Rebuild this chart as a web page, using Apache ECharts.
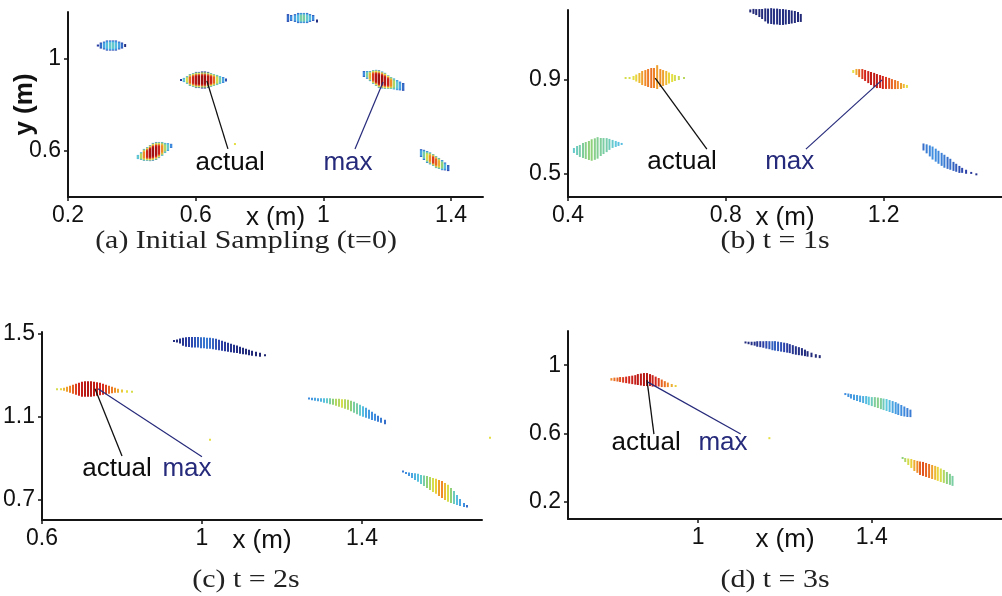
<!DOCTYPE html>
<html><head><meta charset="utf-8">
<script src="https://cdn.jsdelivr.net/npm/echarts@6/dist/echarts.min.js"></script>
<style>html,body{margin:0;padding:0;background:#fff}#chart{width:1002px;height:596px}</style>
</head><body><div id="chart"></div>
<script>
// ---------- tick values ----------
const a_xTicks = [0.2, 0.6, 1, 1.4];
const a_yTicks = [0.6, 1];
const b_xTicks = [0.4, 0.8, 1.2];
const b_yTicks = [0.5, 0.9];
const c_xTicks = [0.6, 1, 1.4];
const c_yTicks = [0.7, 1.1, 1.5];
const d_xTicks = [1, 1.4];
const d_yTicks = [0.2, 0.6, 1];

const captions = ['(a) Initial Sampling (t=0)', '(b) t = 1s', '(c) t = 2s', '(d) t = 3s'];

// ---------- particle columns: [x, y centre, half height, weight, rim weight] ----------
// (a) initial sampling
const a_clusterLeft = [
 [0.294,1.055,0.004,0.12,0.10],[0.303,1.055,0.013,0.20,0.12],[0.313,1.055,0.017,0.30,0.15],
 [0.322,1.055,0.022,0.35,0.15],[0.332,1.055,0.022,0.40,0.15],[0.341,1.055,0.022,0.40,0.15],
 [0.350,1.055,0.022,0.35,0.15],[0.360,1.055,0.017,0.30,0.15],[0.369,1.055,0.013,0.20,0.12],
 [0.379,1.055,0.0065,0.05,0.05]];
const a_clusterTop = [
 [0.889,1.174,0.017,0.20,0.12],[0.899,1.174,0.013,0.25,0.15],[0.911,1.174,0.017,0.30,0.15],
 [0.921,1.174,0.022,0.35,0.15],[0.930,1.174,0.022,0.45,0.20],[0.939,1.174,0.022,0.45,0.20],
 [0.949,1.174,0.022,0.40,0.15],[0.958,1.174,0.017,0.35,0.15],[0.968,1.174,0.013,0.25,0.12],
 [0.980,1.161,0.0065,0.05,0.05]];
const a_clusterActual = [
 [0.554,0.906,0.004,0.10,0.10],[0.563,0.906,0.009,0.40,0.20],[0.573,0.906,0.017,0.60,0.30],
 [0.582,0.906,0.026,0.80,0.30],[0.592,0.906,0.030,0.90,0.30],[0.601,0.906,0.035,0.95,0.20],
 [0.610,0.906,0.035,1.00,0.20],[0.620,0.906,0.037,1.00,0.10],[0.629,0.906,0.037,1.00,0.10],
 [0.639,0.906,0.035,0.95,0.15],[0.648,0.906,0.030,0.90,0.30],[0.657,0.906,0.026,0.80,0.35],
 [0.667,0.906,0.022,0.60,0.35],[0.676,0.906,0.017,0.45,0.30],[0.686,0.906,0.013,0.30,0.20],
 [0.695,0.906,0.0065,0.15,0.15]];
const a_clusterMax = [
 [1.127,0.932,0.013,0.25,0.15],[1.137,0.928,0.017,0.45,0.20],[1.146,0.923,0.022,0.70,0.25],
 [1.156,0.919,0.030,0.85,0.30],[1.165,0.915,0.035,0.95,0.30],[1.174,0.910,0.039,1.00,0.25],
 [1.184,0.906,0.037,1.00,0.30],[1.193,0.902,0.035,0.95,0.30],[1.203,0.897,0.030,0.90,0.35],
 [1.212,0.893,0.026,0.75,0.35],[1.221,0.889,0.024,0.55,0.30],[1.231,0.884,0.022,0.40,0.25],
 [1.240,0.880,0.019,0.30,0.20],[1.250,0.876,0.017,0.20,0.15]];
const a_clusterLowLeft = [
 [0.419,0.573,0.009,0.40,0.30],[0.429,0.577,0.017,0.55,0.30],[0.438,0.582,0.026,0.75,0.30],
 [0.448,0.586,0.030,0.90,0.30],[0.457,0.590,0.035,0.98,0.30],[0.466,0.595,0.039,1.00,0.25],
 [0.476,0.599,0.039,0.98,0.25],[0.485,0.603,0.035,0.90,0.30],[0.495,0.608,0.030,0.75,0.30],
 [0.504,0.612,0.022,0.55,0.30],[0.513,0.616,0.017,0.40,0.25],[0.523,0.621,0.009,0.25,0.20]];
const a_clusterLowRight = [
 [1.306,0.590,0.017,0.30,0.15],[1.315,0.582,0.022,0.45,0.15],[1.325,0.573,0.026,0.60,0.20],
 [1.334,0.567,0.026,0.75,0.25],[1.344,0.560,0.026,0.85,0.30],[1.353,0.551,0.026,0.80,0.30],
 [1.362,0.545,0.024,0.70,0.30],[1.372,0.538,0.022,0.50,0.20],[1.381,0.532,0.017,0.35,0.15],
 [1.391,0.525,0.013,0.20,0.10]];
const a_stray = [[0.723,0.629,0.003,0.62,0.62]];

// (b) t = 1s  [x, y, half height, weight]
const b_clusterTop = [
 [0.862,1.196,0.0064,0.03],[0.870,1.194,0.0107,0.03],[0.877,1.191,0.0128,0.03],[0.885,1.187,0.0171,0.03],
 [0.892,1.183,0.0214,0.04],[0.900,1.179,0.0278,0.04],[0.907,1.174,0.032,0.05],[0.915,1.174,0.034,0.05],
 [0.922,1.172,0.034,0.05],[0.930,1.172,0.034,0.05],[0.937,1.170,0.034,0.05],[0.945,1.170,0.034,0.05],
 [0.952,1.170,0.032,0.05],[0.960,1.170,0.030,0.04],[0.967,1.170,0.0278,0.04],[0.975,1.170,0.0257,0.04],
 [0.983,1.170,0.0214,0.03],[0.990,1.166,0.0171,0.03]];
const b_clusterActual = [
 [0.546,0.909,0.003,0.60],[0.556,0.909,0.0043,0.60],[0.566,0.909,0.0086,0.62],[0.573,0.909,0.015,0.64],
 [0.581,0.909,0.0214,0.68],[0.588,0.909,0.030,0.72],[0.596,0.909,0.034,0.75],[0.603,0.909,0.0385,0.77],
 [0.611,0.909,0.0428,0.78],[0.618,0.909,0.0428,0.76],[0.626,0.913,0.051,0.72],[0.634,0.909,0.0385,0.74],
 [0.641,0.909,0.034,0.72],[0.649,0.909,0.030,0.68],[0.656,0.909,0.0235,0.64],[0.664,0.909,0.0171,0.62],
 [0.671,0.909,0.0128,0.60],[0.681,0.909,0.0086,0.58],[0.694,0.909,0.0043,0.56]];
const b_clusterMax = [
 [1.123,0.937,0.0064,0.62],[1.131,0.935,0.0128,0.70],[1.138,0.930,0.0171,0.78],[1.146,0.926,0.0214,0.85],
 [1.153,0.920,0.0235,0.88],[1.161,0.913,0.0257,0.90],[1.168,0.907,0.0278,0.92],[1.176,0.901,0.030,0.93],
 [1.183,0.896,0.030,0.92],[1.191,0.894,0.0278,0.90],[1.198,0.890,0.0278,0.88],[1.206,0.888,0.0257,0.85],
 [1.214,0.886,0.0235,0.83],[1.221,0.883,0.0214,0.80],[1.229,0.881,0.0193,0.78],[1.236,0.879,0.0171,0.75],
 [1.244,0.875,0.0128,0.72],[1.251,0.875,0.0086,0.68],[1.259,0.873,0.0064,0.62]];
const b_clusterLowRight = [
 [1.301,0.614,0.015,0.20],[1.309,0.606,0.0193,0.22],[1.317,0.597,0.0235,0.24],[1.324,0.588,0.0278,0.25],
 [1.332,0.579,0.0278,0.25],[1.339,0.570,0.0278,0.24],[1.347,0.561,0.0278,0.23],[1.354,0.553,0.0278,0.22],
 [1.362,0.546,0.0257,0.20],[1.369,0.540,0.0235,0.20],[1.377,0.531,0.0193,0.18],[1.384,0.525,0.0171,0.17],
 [1.392,0.518,0.015,0.15],[1.399,0.514,0.0107,0.14],[1.409,0.508,0.0086,0.12],[1.422,0.503,0.0043,0.10],
 [1.435,0.497,0.0021,0.08]];
const b_clusterLowLeft = [
 [0.415,0.599,0.0107,0.40],[0.423,0.599,0.0193,0.42],[0.430,0.597,0.0257,0.44],[0.438,0.599,0.032,0.46],
 [0.445,0.599,0.0364,0.48],[0.453,0.599,0.0406,0.50],[0.460,0.601,0.046,0.50],[0.468,0.605,0.046,0.48],
 [0.475,0.610,0.046,0.47],[0.483,0.614,0.0385,0.46],[0.490,0.618,0.0342,0.45],[0.498,0.622,0.030,0.44],
 [0.505,0.625,0.0235,0.42],[0.513,0.627,0.0171,0.40],[0.521,0.627,0.0128,0.38],[0.528,0.627,0.0086,0.36],
 [0.536,0.627,0.0043,0.35]];

// (c) t = 2s
const c_clusterTop = [
 [0.930,1.467,0.0036,0.05],[0.9375,1.466,0.0073,0.05],[0.945,1.466,0.0121,0.06],[0.9525,1.463,0.0194,0.08],
 [0.960,1.462,0.023,0.10],[0.9675,1.461,0.0242,0.12],[0.975,1.460,0.0255,0.14],[0.9825,1.460,0.0255,0.16],
 [0.990,1.460,0.0255,0.18],[0.9975,1.458,0.0267,0.20],[1.005,1.458,0.0267,0.21],[1.0125,1.456,0.0267,0.22],
 [1.020,1.456,0.0267,0.20],[1.0275,1.453,0.0267,0.18],[1.035,1.451,0.0267,0.16],[1.0425,1.447,0.0255,0.14],
 [1.050,1.444,0.0242,0.12],[1.0575,1.440,0.023,0.10],[1.065,1.436,0.0218,0.09],[1.0725,1.433,0.0206,0.08],
 [1.080,1.429,0.0194,0.07],[1.0875,1.426,0.0182,0.06],[1.095,1.422,0.017,0.05],[1.1025,1.418,0.0158,0.05],
 [1.110,1.415,0.0145,0.04],[1.1175,1.411,0.0133,0.04],[1.125,1.407,0.0121,0.03],[1.135,1.404,0.0109,0.03],
 [1.145,1.400,0.0097,0.02],[1.1575,1.398,0.0048,0.02]];
const c_clusterActual = [
 [0.6375,1.233,0.0024,0.60],[0.6475,1.233,0.0048,0.64],[0.655,1.233,0.0073,0.68],[0.6625,1.233,0.0121,0.72],
 [0.670,1.233,0.017,0.76],[0.6775,1.233,0.0218,0.80],[0.685,1.233,0.0267,0.84],[0.6925,1.233,0.0315,0.88],
 [0.700,1.233,0.0364,0.92],[0.7075,1.234,0.0376,0.94],[0.715,1.234,0.0376,0.95],[0.7225,1.234,0.0376,0.94],
 [0.730,1.234,0.0351,0.93],[0.7375,1.234,0.0327,0.91],[0.745,1.234,0.0303,0.89],[0.7525,1.233,0.0267,0.87],
 [0.760,1.232,0.023,0.84],[0.7675,1.230,0.0194,0.80],[0.775,1.229,0.0158,0.77],[0.7825,1.228,0.0121,0.74],
 [0.790,1.226,0.0097,0.70],[0.800,1.224,0.0073,0.66],[0.8125,1.222,0.0061,0.62],[0.825,1.221,0.0048,0.60]];
const c_clusterMid = [
 [1.2675,1.188,0.0036,0.25],[1.275,1.186,0.0061,0.27],[1.2825,1.184,0.0073,0.30],[1.290,1.182,0.0073,0.30],
 [1.2975,1.181,0.0085,0.33],[1.305,1.178,0.0109,0.36],[1.3125,1.177,0.0121,0.40],[1.320,1.175,0.0145,0.45],
 [1.3275,1.172,0.0145,0.50],[1.335,1.170,0.017,0.55],[1.3425,1.167,0.0194,0.55],[1.350,1.164,0.0206,0.60],
 [1.3575,1.161,0.023,0.55],[1.365,1.158,0.0242,0.55],[1.3725,1.152,0.0255,0.50],[1.380,1.146,0.0267,0.45],
 [1.3875,1.138,0.0267,0.45],[1.395,1.131,0.0267,0.40],[1.4025,1.125,0.0255,0.35],[1.410,1.119,0.0242,0.30],
 [1.4175,1.112,0.0218,0.28],[1.425,1.104,0.0194,0.25],[1.4325,1.097,0.017,0.25],[1.440,1.090,0.0145,0.22],
 [1.4475,1.083,0.0121,0.22],[1.4575,1.074,0.0109,0.20]];
const c_clusterLowRight = [
 [1.5025,0.835,0.0024,0.22],[1.510,0.828,0.0048,0.25],[1.5175,0.822,0.0085,0.27],[1.525,0.816,0.0121,0.30],
 [1.5325,0.810,0.0158,0.33],[1.540,0.804,0.0194,0.36],[1.5475,0.796,0.0218,0.40],[1.555,0.790,0.0255,0.45],
 [1.5625,0.784,0.0291,0.50],[1.570,0.777,0.0315,0.55],[1.5775,0.770,0.0339,0.60],[1.585,0.763,0.0364,0.65],
 [1.5925,0.755,0.0388,0.72],[1.600,0.748,0.0412,0.75],[1.6075,0.738,0.0412,0.68],[1.615,0.729,0.0412,0.60],
 [1.6225,0.719,0.0364,0.50],[1.630,0.709,0.0315,0.42],[1.6375,0.697,0.0242,0.35],[1.645,0.685,0.017,0.30],
 [1.655,0.673,0.0097,0.25],[1.6625,0.667,0.0061,0.20]];
const c_stray = [[1.02,0.988,0.003,0.62],[1.72,0.998,0.003,0.62]];

// (d) t = 3s
const d_clusterActual = [
 [0.800,0.917,0.0073,0.75],[0.807,0.917,0.0102,0.78],[0.814,0.916,0.0117,0.80],[0.820,0.916,0.0146,0.82],
 [0.827,0.914,0.0161,0.85],[0.834,0.914,0.019,0.87],[0.841,0.914,0.0219,0.88],[0.848,0.914,0.0248,0.90],
 [0.855,0.914,0.0277,0.92],[0.861,0.916,0.0321,0.93],[0.868,0.916,0.035,0.94],[0.875,0.916,0.038,0.95],
 [0.882,0.916,0.038,0.95],[0.889,0.913,0.035,0.93],[0.895,0.908,0.0336,0.90],[0.902,0.904,0.0292,0.88],
 [0.909,0.900,0.0248,0.85],[0.916,0.894,0.0219,0.80],[0.923,0.889,0.0175,0.78],[0.930,0.885,0.0131,0.75],
 [0.939,0.881,0.0088,0.70],[0.948,0.878,0.0058,0.65]];
const d_clusterTop = [
 [1.109,1.133,0.0044,0.04],[1.116,1.130,0.0073,0.05],[1.123,1.127,0.0102,0.06],[1.130,1.126,0.0117,0.07],
 [1.136,1.124,0.0161,0.08],[1.143,1.123,0.0175,0.10],[1.150,1.121,0.019,0.12],[1.157,1.119,0.0219,0.14],
 [1.164,1.117,0.0234,0.16],[1.171,1.114,0.0263,0.18],[1.177,1.113,0.0277,0.18],[1.184,1.110,0.0277,0.17],
 [1.191,1.107,0.0277,0.15],[1.198,1.104,0.0277,0.13],[1.205,1.101,0.0277,0.11],[1.211,1.097,0.0263,0.10],
 [1.218,1.091,0.0263,0.08],[1.225,1.086,0.0248,0.07],[1.232,1.082,0.0234,0.06],[1.239,1.078,0.0219,0.05],
 [1.246,1.072,0.019,0.05],[1.252,1.066,0.0161,0.04],[1.261,1.060,0.0131,0.04],[1.271,1.054,0.0102,0.03],
 [1.280,1.050,0.0088,0.03]];
const d_clusterMid = [
 [1.339,0.831,0.0058,0.25],[1.346,0.824,0.0102,0.26],[1.352,0.818,0.0131,0.27],[1.359,0.812,0.0161,0.28],
 [1.366,0.808,0.0175,0.29],[1.373,0.803,0.019,0.30],[1.380,0.799,0.0204,0.32],[1.387,0.796,0.0234,0.35],
 [1.393,0.791,0.0248,0.38],[1.400,0.787,0.0263,0.42],[1.407,0.784,0.0292,0.46],[1.414,0.780,0.0307,0.48],
 [1.421,0.775,0.0321,0.46],[1.427,0.771,0.0336,0.42],[1.434,0.767,0.035,0.38],[1.441,0.761,0.035,0.34],
 [1.448,0.755,0.035,0.30],[1.455,0.749,0.035,0.28],[1.461,0.742,0.0336,0.26],[1.468,0.735,0.0321,0.25],
 [1.475,0.729,0.0292,0.24],[1.482,0.723,0.0263,0.23],[1.489,0.718,0.0219,0.22]];
const d_clusterLowRight = [
 [1.471,0.457,0.0058,0.50],[1.477,0.445,0.0117,0.55],[1.484,0.435,0.019,0.60],[1.491,0.425,0.0263,0.65],
 [1.498,0.413,0.0321,0.70],[1.505,0.405,0.035,0.75],[1.511,0.397,0.0394,0.80],[1.518,0.393,0.0409,0.82],
 [1.525,0.387,0.0409,0.80],[1.532,0.381,0.0409,0.78],[1.539,0.375,0.0409,0.72],[1.546,0.370,0.0409,0.68],
 [1.552,0.364,0.0409,0.64],[1.559,0.356,0.0394,0.60],[1.566,0.349,0.038,0.55],[1.573,0.340,0.035,0.50],
 [1.580,0.332,0.0321,0.47],[1.586,0.323,0.0292,0.45]];
const d_stray = [[1.164,0.573,0.003,0.62]];

// ---------- annotations: text position and pointer line [from, to] ----------
const a_actualText = [0.708, 0.547], a_actualLine = [[0.701, 0.608], [0.635, 0.902]];
const a_maxText    = [1.077, 0.547], a_maxLine    = [[1.099, 0.608], [1.187, 0.897]];
const b_actualText = [0.689, 0.550], b_actualLine = [[0.752, 0.605], [0.621, 0.909]];
const b_maxText    = [0.962, 0.550], b_maxLine    = [[1.003, 0.605], [1.196, 0.901]];
const c_actualText = [0.7875, 0.847], c_actualLine = [[0.800, 0.910], [0.7325, 1.235]];
const c_maxText    = [0.9625, 0.847], c_maxLine    = [[1.000, 0.906], [0.740, 1.235]];
const d_actualText = [0.880, 0.545], d_actualLine = [[0.898, 0.597], [0.882, 0.913]];
const d_maxText    = [1.057, 0.545], d_maxLine    = [[1.098, 0.597], [0.884, 0.901]];

// ---------- styling helpers ----------
// muted, print-like jet colour ramp
const RAMP = [
  [0.000, [31, 34, 102]], [0.125, [42, 63, 168]], [0.25, [63, 142, 224]], [0.375, [92, 200, 224]],
  [0.5, [143, 208, 122]], [0.625, [232, 224, 64]], [0.75, [240, 138, 40]], [0.875, [214, 38, 28]],
  [1.0, [160, 16, 16]]
];
function jet(t) {
  t = Math.max(0, Math.min(1, t));
  for (let i = 1; i < RAMP.length; i++) {
    if (t <= RAMP[i][0]) {
      const [t0, c0] = RAMP[i - 1], [t1, c1] = RAMP[i];
      const k = (t - t0) / (t1 - t0);
      return 'rgb(' + c0.map((v, j) => Math.round(v + (c1[j] - v) * k)).join(',') + ')';
    }
  }
  return 'rgb(160,16,16)';
}
function renderColumn(params, api) {
  const x = api.value(0), y = api.value(1), h = api.value(2), w = api.value(3);
  let e = api.value(4); if (e == null || isNaN(e)) e = w;
  const p1 = api.coord([x, y + h]), p2 = api.coord([x, y - h]);
  let top = p1[1], hgt = p2[1] - p1[1];
  if (hgt < 2) { top -= (2 - hgt) / 2; hgt = 2; }
  let fill, width = 2;
  if (Math.abs(e - w) < 1e-6) fill = jet(w);
  else {
    width = 2.4;
    const prof = [[0, 0], [0.1, 0.5], [0.2, 0.85], [0.28, 1], [0.72, 1], [0.8, 0.85], [0.9, 0.5], [1, 0]];
    fill = new echarts.graphic.LinearGradient(0, 0, 0, 1,
      prof.map(([o, k]) => ({ offset: o, color: jet(e + (w - e) * k) })));
  }
  return { type: 'rect', shape: { x: p1[0] - width / 2, y: top, width, height: hgt }, style: { fill } };
}
const full = arr => arr.map(r => r.length === 5 ? r : [r[0], r[1], r[2], r[3], r[3]]);

const FONT = 'Liberation Sans';
const grids = [
  { left: 68, top: 12, width: 415, height: 185 },
  { left: 568, top: 10, width: 438, height: 187 },
  { left: 42, top: 332, width: 440, height: 188 },
  { left: 568, top: 331, width: 440, height: 188 }
];
const ranges = [
  { x: [0.2, 1.5], y: [0.4, 1.2], xt: a_xTicks, yt: a_yTicks },
  { x: [0.4, 1.5], y: [0.4, 1.2], xt: b_xTicks, yt: b_yTicks },
  { x: [0.6, 1.7], y: [0.6, 1.51], xt: c_xTicks, yt: c_yTicks },
  { x: [0.7, 1.7], y: [0.1, 1.2], xt: d_xTicks, yt: d_yTicks }
];
const axisLine = { show: true, onZero: false, lineStyle: { color: '#151515', width: 2 } };
const xAxis = ranges.map((r, i) => ({
  type: 'value', gridIndex: i, min: r.x[0], max: r.x[1],
  axisLine, splitLine: { show: false },
  axisTick: { show: true, length: 4, customValues: r.xt, lineStyle: { color: '#151515', width: 1.5 } },
  axisLabel: { customValues: r.xt, fontSize: 23, color: '#111', fontFamily: FONT, margin: 7 },
  name: 'x (m)', nameLocation: 'middle', nameGap: 8, nameMoveOverlap: false,
  nameTextStyle: { fontSize: 26, color: '#111', fontFamily: FONT, verticalAlign: 'top' }
}));
const yAxis = ranges.map((r, i) => ({
  type: 'value', gridIndex: i, min: r.y[0], max: r.y[1],
  axisLine, splitLine: { show: false },
  axisTick: { show: true, length: 4, customValues: r.yt, lineStyle: { color: '#151515', width: 1.5 } },
  axisLabel: { customValues: r.yt, fontSize: 23, color: '#111', fontFamily: FONT, margin: 7 },
  name: i === 0 ? 'y (m)' : '', nameLocation: 'middle', nameGap: 30, nameRotate: 90, nameMoveOverlap: false,
  nameTextStyle: { fontSize: 26, fontWeight: 'bold', color: '#111', fontFamily: FONT }
}));

const panelClusters = [
  [a_clusterLeft, a_clusterTop, a_clusterActual, a_clusterMax, a_clusterLowLeft, a_clusterLowRight, a_stray],
  [b_clusterTop, b_clusterActual, b_clusterMax, b_clusterLowRight, b_clusterLowLeft],
  [c_clusterTop, c_clusterActual, c_clusterMid, c_clusterLowRight, c_stray],
  [d_clusterActual, d_clusterTop, d_clusterMid, d_clusterLowRight, d_stray]
];
const annots = [
  [a_actualText, a_actualLine, a_maxText, a_maxLine],
  [b_actualText, b_actualLine, b_maxText, b_maxLine],
  [c_actualText, c_actualLine, c_maxText, c_maxLine],
  [d_actualText, d_actualLine, d_maxText, d_maxLine]
];
const MAXC = '#262a7a';
const series = [];
panelClusters.forEach((cl, i) => {
  cl.forEach(arr => series.push({
    type: 'custom', xAxisIndex: i, yAxisIndex: i, renderItem: renderColumn,
    data: full(arr), silent: true, z: 2
  }));
  const [at, al, mt, ml] = annots[i];
  series.push({ type: 'line', xAxisIndex: i, yAxisIndex: i, data: al, symbol: 'none', silent: true, z: 5,
    lineStyle: { color: '#111', width: 1.3 } });
  series.push({ type: 'line', xAxisIndex: i, yAxisIndex: i, data: ml, symbol: 'none', silent: true, z: 5,
    lineStyle: { color: MAXC, width: 1.2 } });
  series.push({ type: 'scatter', xAxisIndex: i, yAxisIndex: i, symbolSize: 1, silent: true, z: 6,
    itemStyle: { color: 'rgba(0,0,0,0)', opacity: 1 },
    data: [{ value: at, label: { formatter: 'actual', color: '#0d0d0d' } },
           { value: mt, label: { formatter: 'max', color: MAXC } }],
    label: { show: true, position: 'inside', fontSize: 26, fontFamily: FONT } });
});

const capPos = [[246, 241], [775, 241], [246, 580], [775, 580]];
const graphic = captions.map((t, i) => ({
  type: 'text', x: capPos[i][0], y: capPos[i][1], scaleX: 1.15, silent: true,
  style: { text: t, align: 'center', verticalAlign: 'middle', fill: '#222',
    font: '26px "Liberation Serif"' }
}));

const chart = echarts.init(document.getElementById('chart'), null, { renderer: 'canvas' });
chart.setOption({
  animation: false, backgroundColor: '#fff',
  grid: grids, xAxis, yAxis, series, graphic
});
</script></body></html>
